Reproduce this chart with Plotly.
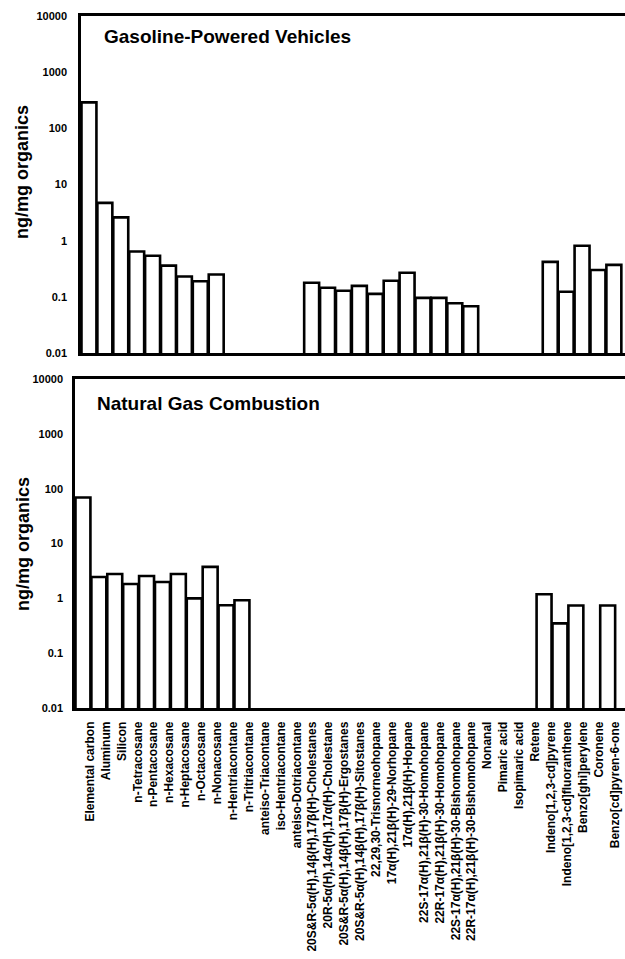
import plotly.graph_objects as go

# Tracer species shown along the shared x axis
categories = [
    "Elemental carbon", "Aluminum", "Silicon",
    "n-Tetracosane", "n-Pentacosane", "n-Hexacosane", "n-Heptacosane",
    "n-Octacosane", "n-Nonacosane", "n-Hentriacontane", "n-Tritriacontane",
    "anteiso-Triacontane", "iso-Hentriacontane", "anteiso-Dotriacontane",
    "20S&R-5α(H),14β(H),17β(H)-Cholestanes",
    "20R-5α(H),14α(H),17α(H)-Cholestane",
    "20S&R-5α(H),14β(H),17β(H)-Ergostanes",
    "20S&R-5α(H),14β(H),17β(H)-Sitostanes",
    "22,29,30-Trisnorneohopane",
    "17α(H),21β(H)-29-Norhopane",
    "17α(H),21β(H)-Hopane",
    "22S-17α(H),21β(H)-30-Homohopane",
    "22R-17α(H),21β(H)-30-Homohopane",
    "22S-17α(H),21β(H)-30-Bishomohopane",
    "22R-17α(H),21β(H)-30-Bishomohopane",
    "Nonanal", "Pimaric acid", "Isopimaric acid", "Retene",
    "Indeno[1,2,3-cd]pyrene", "Indeno[1,2,3-cd]fluoranthene",
    "Benzo[ghi]perylene", "Coronene", "Benzo[cd]pyren-6-one",
]

# ng/mg organics, gasoline-powered vehicles (None = not in profile)
gasoline = [
    290, 4.7, 2.6,
    0.64, 0.54, 0.36, 0.23, 0.19, 0.25, None, None,
    None, None, None,
    0.178, 0.145, 0.128, 0.157, 0.113, 0.193, 0.268, 0.096, 0.096, 0.077, 0.068,
    None, None, None, None,
    0.42, 0.123, 0.81, 0.30, 0.37,
]

# ng/mg organics, natural gas combustion
natural_gas = [
    69, 2.45, 2.78,
    1.82, 2.55, 1.98, 2.78, 1.0, 3.75, 0.75, 0.92,
    None, None, None,
    None, None, None, None, None, None, None, None, None, None, None,
    None, None, None, None,
    1.19, 0.35, 0.74, None, 0.74,
]

ytick_vals = [0.01, 0.1, 1, 10, 100, 1000, 10000]
ytick_text = ["0.01", "0.1", "1", "10", "100", "1000", "10000"]

W, H = 625, 959
FONT = "Liberation Sans, Arial, sans-serif"

bar_style = dict(color="white", line=dict(color="black", width=2.6))

fig = go.Figure()
fig.add_trace(go.Bar(x=categories, y=gasoline, xaxis="x", yaxis="y",
                     marker=bar_style, showlegend=False))
fig.add_trace(go.Bar(x=categories, y=natural_gas, xaxis="x2", yaxis="y2",
                     marker=bar_style, showlegend=False))

common_x = dict(type="category", showline=True, mirror=True, linecolor="black",
                linewidth=2.5, showgrid=False, zeroline=False, ticks="",
                automargin=False)
common_y = dict(type="log", range=[-2, 4], tickvals=ytick_vals, ticktext=ytick_text,
                showline=True, linecolor="black", linewidth=2.5, showgrid=False,
                zeroline=False, ticks="", automargin=False,
                tickfont=dict(family=FONT, size=11, color="black", weight="bold"))

fig.update_layout(
    width=W, height=H,
    margin=dict(l=0, r=0, t=0, b=0),
    paper_bgcolor="white", plot_bgcolor="white",
    bargap=0.06,
    font=dict(family=FONT, color="black"),
    xaxis=dict(domain=[81 / W, 1], anchor="y", range=[-0.5, 33.7],
               showticklabels=False, **common_x),
    yaxis=dict(domain=[1 - 353 / H, 1 - 16 / H], anchor="x",
               ticklabelstandoff=9, **common_y),
    xaxis2=dict(domain=[75 / W, 1], anchor="y2", range=[-0.5, 34.09],
                tickangle=-90, ticklabelshift=7, ticklabelstandoff=6,
                tickfont=dict(family=FONT, size=12, color="black", weight="bold"),
                **common_x),
    yaxis2=dict(domain=[1 - 708 / H, 1 - 379 / H], anchor="x2",
                ticklabelstandoff=7, **common_y),
)

title_font = dict(family=FONT, size=19, color="black", weight="bold")
fig.add_annotation(text="Gasoline-Powered Vehicles", xref="x domain", yref="y domain",
                   x=0.0386, y=0.938, xanchor="left", yanchor="middle",
                   showarrow=False, font=title_font)
fig.add_annotation(text="Natural Gas Combustion", xref="x2 domain", yref="y2 domain",
                   x=0.036, y=0.927, xanchor="left", yanchor="middle",
                   showarrow=False, font=title_font)

ylab_font = dict(family=FONT, size=18, color="black", weight="bold")
fig.add_annotation(text="ng/mg organics", xref="paper", yref="paper",
                   x=22 / W, y=1 - 172 / H, textangle=-90,
                   xanchor="center", yanchor="middle", showarrow=False, font=ylab_font)
fig.add_annotation(text="ng/mg organics", xref="paper", yref="paper",
                   x=23 / W, y=1 - 544 / H, textangle=-90,
                   xanchor="center", yanchor="middle", showarrow=False, font=ylab_font)

fig.write_html("out.html")
